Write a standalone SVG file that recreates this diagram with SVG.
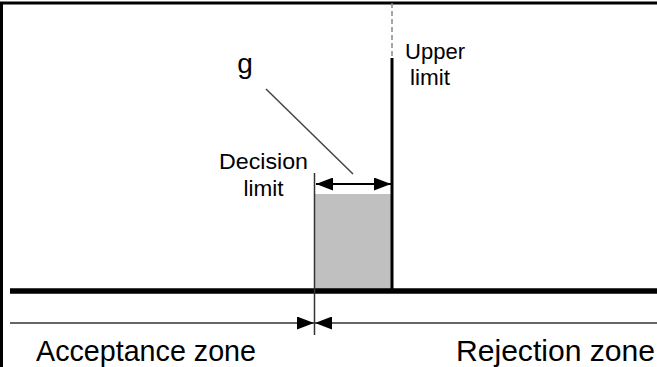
<svg xmlns="http://www.w3.org/2000/svg" width="657" height="367" viewBox="0 0 657 367">
<style>
.lbl{font-family:"Liberation Sans",Arial,sans-serif;fill:#000;text-anchor:middle}
.thin{stroke:#333;stroke-width:1.5;fill:none}
</style>
<defs>
<marker id="ah" viewBox="0 0 17 13" refX="17" refY="6.5" markerWidth="17" markerHeight="13" markerUnits="userSpaceOnUse" orient="auto-start-reverse">
<path d="M0,0 L17,6.5 L0,13 Z" fill="#000"/>
</marker>
</defs>
<rect x="0" y="0" width="657" height="367" fill="#fff"/>
<g id="frame">
<line x1="0" y1="3" x2="657" y2="3" stroke="#000" stroke-width="3"/>
<line x1="1.5" y1="3" x2="1.5" y2="367" stroke="#000" stroke-width="3"/>
</g>
<g id="gap-region">
<rect x="314.5" y="194" width="77" height="96" fill="#c0c0c0"/>
</g>
<g id="axis">
<line x1="10" y1="291" x2="657" y2="291" stroke="#000" stroke-width="5.5"/>
</g>
<g id="upper-limit">
<line x1="392" y1="3" x2="392" y2="58" stroke="#888" stroke-width="1.5" stroke-dasharray="5,3"/>
<line x1="392" y1="58" x2="392" y2="291" stroke="#000" stroke-width="3"/>
<text class="lbl" x="435" y="59" font-size="22.5" textLength="60" lengthAdjust="spacingAndGlyphs">Upper</text>
<text class="lbl" x="430" y="85" font-size="22.5">limit</text>
</g>
<g id="decision-limit">
<line class="thin" x1="314.5" y1="173" x2="314.5" y2="335"/>
<text class="lbl" x="263.5" y="169" font-size="22.5" textLength="89" lengthAdjust="spacingAndGlyphs">Decision</text>
<text class="lbl" x="263.5" y="196" font-size="22.5">limit</text>
</g>
<g id="g-label">
<text class="lbl" x="245" y="73" font-size="28">g</text>
</g>
<g id="acceptance-zone">
<text x="36" y="361" font-size="30" font-family="Liberation Sans, Arial, sans-serif" textLength="220" lengthAdjust="spacingAndGlyphs">Acceptance zone</text>
</g>
<g id="rejection-zone">
<text x="456" y="361" font-size="30" font-family="Liberation Sans, Arial, sans-serif" textLength="199" lengthAdjust="spacingAndGlyphs">Rejection zone</text>
</g>
<g id="connectors">
<line x1="266" y1="89" x2="353" y2="174" stroke="#444" stroke-width="1.5"/>
<line x1="316" y1="184" x2="391" y2="184" stroke="#000" stroke-width="2" marker-start="url(#ah)" marker-end="url(#ah)"/>
<line class="thin" x1="10" y1="323" x2="314" y2="323" marker-end="url(#ah)"/>
<line class="thin" x1="657" y1="323" x2="315" y2="323" marker-end="url(#ah)"/>
</g>
</svg>
